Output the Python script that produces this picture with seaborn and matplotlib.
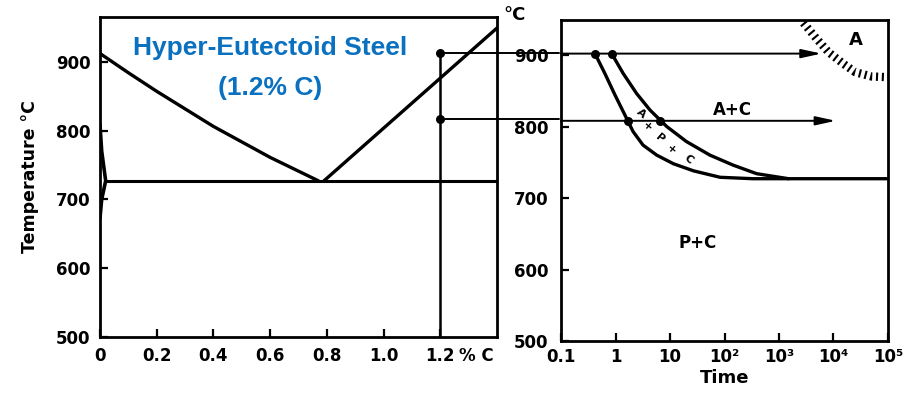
import matplotlib
matplotlib.use("Agg")
import matplotlib.pyplot as plt
import seaborn as sns

# ---------------- Left: Fe-C phase diagram (steel part) ----------------
acm_hypo_c = [0.0, 0.1, 0.2, 0.4, 0.6, 0.77]
acm_hypo_t = [912, 884, 857, 806, 761, 727]
acm_c = [0.79, 1.40]
acm_t = [727, 949]
alpha_c = [0.0, 0.006, 0.02, 0.006, 0.0]
alpha_t = [808, 770, 727, 700, 673]
eutectoid_c = [0.02, 1.40]
eutectoid_t = [727, 727]
alloy_c = 1.2
alloy_temps = [913, 817]
left_xticks = [0, 0.2, 0.4, 0.6, 0.8, 1.0, 1.2]
left_xlabels = ["0", "0.2", "0.4", "0.6", "0.8", "1.0", "1.2"]
temp_ticks = [500, 600, 700, 800, 900]
temp_labels = ["500", "600", "700", "800", "900"]

# ---------------- Right: TTT diagram ----------------
start_time = [0.42, 0.64, 0.98, 1.49, 2.1, 3.2, 5.7, 11.5, 27, 83, 330, 1e5]
start_temp = [902, 874, 844, 816, 793, 774, 760, 748, 738, 729, 727, 727]
finish_time = [0.85, 1.39, 2.45, 4.3, 8.7, 20, 54, 144, 390, 1500]
finish_temp = [902, 874, 846, 823, 800, 779, 760, 746, 734, 727]
a_bound_time = [2800, 5000, 8100, 15000, 25000, 50000, 1e5]
a_bound_temp = [945, 922, 904, 888, 876, 870, 869]
iso_temps = [902, 808]
iso_end_times = [6000, 11000]
iso_dot_times = [[0.42, 0.85], [1.7, 6.6]]
time_ticks = [0.1, 1, 10, 1e2, 1e3, 1e4, 1e5]
time_labels = ["0.1", "1", "10", "10²", "10³", "10⁴", "10⁵"]
band_labels = ["A", "+", "P", "+", "C"]
band_times = [2.9, 3.8, 6.5, 10.5, 22]
band_temps = [818, 800, 783, 767, 754]

sns.set_theme(style="ticks")
plt.rcParams["font.family"] = ["DejaVu Sans"]
plt.rcParams["font.weight"] = "bold"
for key in ("text.color", "axes.labelcolor", "xtick.color", "ytick.color"):
    plt.rcParams[key] = "black"

fig = plt.figure(figsize=(9.12, 4.0), dpi=100)
axL = fig.add_axes([100 / 912, 63 / 400, 397 / 912, 320 / 400])
axR = fig.add_axes([561 / 912, 59 / 400, 327 / 912, 321 / 400])

lw = 2.4
k = "black"

# ---- left panel ----
sns.lineplot(x=acm_hypo_c, y=acm_hypo_t, ax=axL, color=k, lw=lw, sort=False, estimator=None)
sns.lineplot(x=acm_c, y=acm_t, ax=axL, color=k, lw=lw, sort=False, estimator=None)
sns.lineplot(x=eutectoid_c, y=eutectoid_t, ax=axL, color=k, lw=2.2, sort=False, estimator=None)
sns.lineplot(x=alpha_c, y=alpha_t, ax=axL, color=k, lw=2.6, sort=False, estimator=None)
axL.plot([alloy_c, alloy_c], [500, alloy_temps[0]], color=k, lw=1.8)
for t in alloy_temps:
    axL.plot([alloy_c, 1.62], [t, t], color=k, lw=1.4, clip_on=False)
axL.scatter([alloy_c] * len(alloy_temps), alloy_temps, color=k, s=30, zorder=5)

axL.set_xlim(0, 1.40)
axL.set_ylim(500, 965)
axL.set_xticks(left_xticks)
axL.set_xticklabels(left_xlabels)
axL.set_yticks(temp_ticks)
axL.set_yticklabels(temp_labels)
axL.tick_params(direction="in", length=6, width=1.6, labelsize=12, pad=7)
axL.set_ylabel("Temperature °C", fontsize=12.5, fontweight="bold", labelpad=12)
axL.text(1.265, 473, "% C", fontsize=12, fontweight="bold", ha="left", va="center", clip_on=False)

# ---- right panel ----
sns.lineplot(x=start_time, y=start_temp, ax=axR, color=k, lw=lw, sort=False, estimator=None)
sns.lineplot(x=finish_time, y=finish_temp, ax=axR, color=k, lw=lw, sort=False, estimator=None)
axR.plot(a_bound_time, a_bound_temp, color=k, lw=6, dashes=(0.25, 0.45),
         dash_capstyle="butt")
for t, te, dots in zip(iso_temps, iso_end_times, iso_dot_times):
    axR.annotate("", xy=(te, t), xytext=(0.1, t),
                 arrowprops=dict(arrowstyle="-|>,head_length=1.0,head_width=0.22", lw=1.4,
                                 color=k, shrinkA=0, shrinkB=0))
    axR.scatter(dots, [t] * len(dots), color=k, s=30, zorder=5)

axR.text(26000, 921, "A", fontsize=13, fontweight="bold", ha="center", va="center")
axR.text(140, 823, "A+C", fontsize=12, fontweight="bold", ha="center", va="center")
axR.text(32, 637, "P+C", fontsize=12, fontweight="bold", ha="center", va="center")
for s, x, y in zip(band_labels, band_times, band_temps):
    axR.text(x, y, s, fontsize=8, fontweight="bold", ha="center", va="center", rotation=-40)

axR.set_xscale("log")
axR.set_xlim(0.1, 1e5)
axR.set_ylim(500, 949)
axR.set_xticks(time_ticks)
axR.set_xticklabels(time_labels)
axR.minorticks_off()
axR.set_yticks(temp_ticks)
axR.set_yticklabels(temp_labels)
axR.tick_params(direction="in", length=6, width=1.6, labelsize=12)
axR.tick_params(axis="y", pad=9)
axR.tick_params(axis="x", pad=5)
axR.set_xlabel("Time", fontsize=13, fontweight="bold", labelpad=2)

for ax in (axL, axR):
    for sp in ax.spines.values():
        sp.set_visible(True)
        sp.set_linewidth(2.0)
        sp.set_color(k)

fig.text(515 / 912, 1 - 15 / 400, "°C", fontsize=13, fontweight="bold", ha="center", va="center")

title_font = ["Liberation Sans Narrow", "Liberation Sans", "DejaVu Sans"]
fig.text(270 / 912, 1 - 48 / 400, "Hyper-Eutectoid Steel", color="#0A70C0", fontsize=19,
         fontweight="bold", family=title_font, ha="center", va="center")
fig.text(270 / 912, 1 - 88 / 400, "(1.2% C)", color="#0A70C0", fontsize=19,
         fontweight="bold", family=title_font, ha="center", va="center")

fig.savefig("out.png", dpi=100)
